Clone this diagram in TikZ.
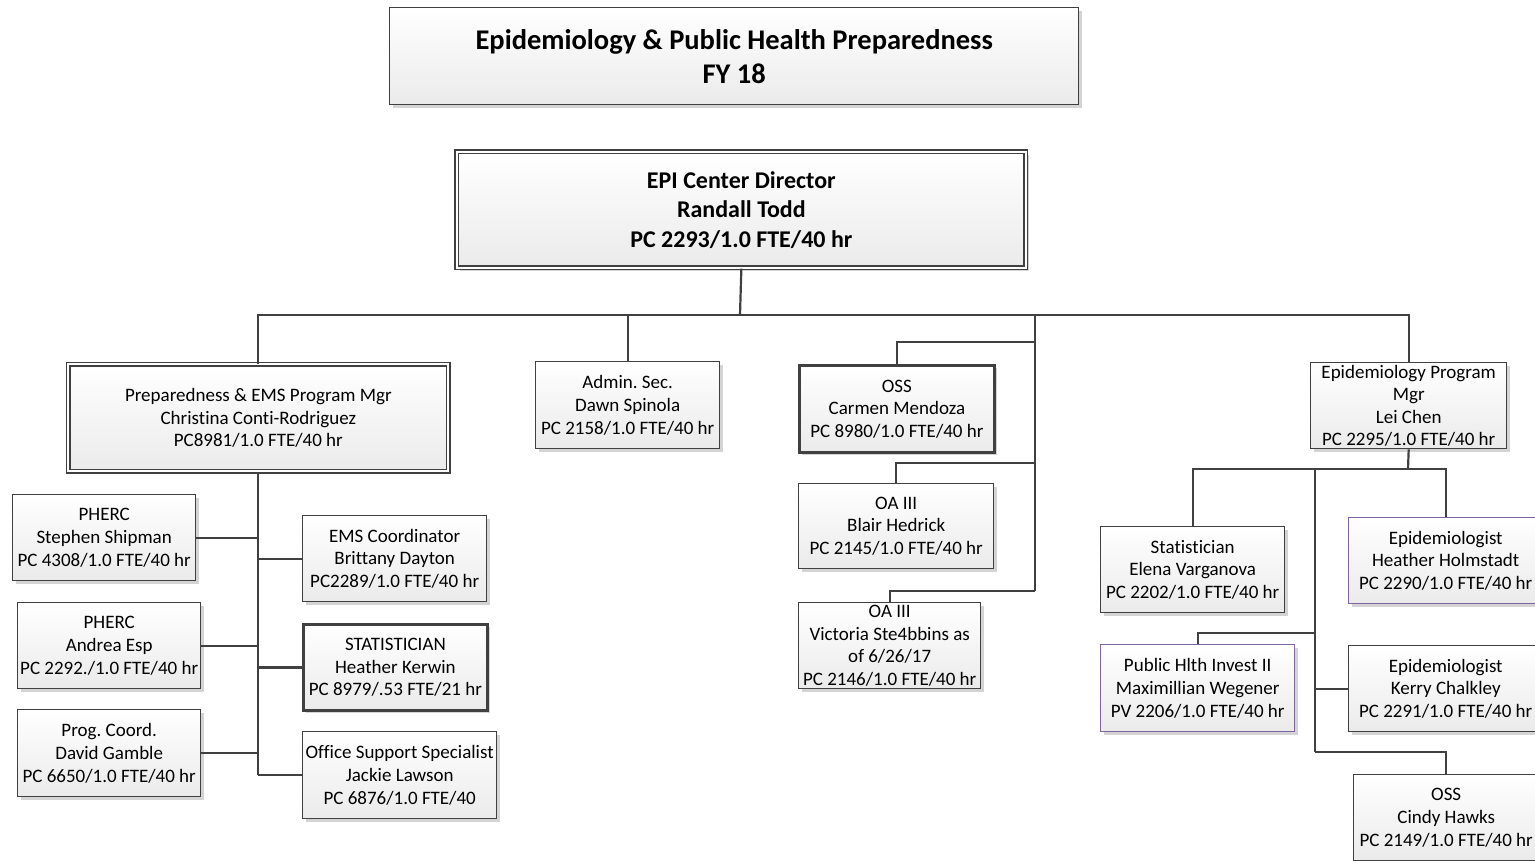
\documentclass[tikz,border=0pt]{standalone}
\usepackage{fontspec}
\setmainfont{Carlito}[Ligatures=NoCommon]
\frenchspacing
\usetikzlibrary{shadows}
\definecolor{ln}{RGB}{64,64,64}
\definecolor{pur}{RGB}{128,100,162}
\tikzset{
  box/.style={draw=ln, line width=1.4pt, top color=white, bottom color=black!8,
    drop shadow={shadow xshift=3pt, shadow yshift=-3pt, fill=black!17, opacity=1},
    inner sep=0pt, align=center, anchor=north west,
    font=\fontsize{19}{22.6}\selectfont},
  thickbox/.style={box, line width=2.8pt},
  dbox/.style={box, double=white, double distance=1.8pt, line width=1.7pt},
  purbox/.style={box, draw=pur},
  conn/.style={draw=ln, line width=2.2pt},
}
\begin{document}
\begin{tikzpicture}[x=1pt,y=-1pt]
\useasboundingbox (0,0) rectangle (1535,860);
% title
\node[box, minimum width=689pt, minimum height=97pt, font=\fontsize{28.5}{34}\selectfont\bfseries] (title) at (389,7)
  {Epidemiology \& Public Health Preparedness\\FY 18};
% director
\node[dbox, minimum width=569pt, minimum height=116pt, font=\fontsize{24}{29.5}\selectfont\bfseries] (dir) at (456,151)
  {EPI Center Director\\Randall Todd\\PC 2293/1.0 FTE/40 hr};
% level 2
\node[dbox, minimum width=380pt, minimum height=107pt] (prep) at (67.5,363.5)
  {Preparedness \& EMS Program Mgr\\Christina Conti-Rodriguez\\PC8981/1.0 FTE/40 hr};
\node[box, minimum width=184pt, minimum height=87pt] (admin) at (535,361)
  {Admin. Sec.\\Dawn Spinola\\PC 2158/1.0 FTE/40 hr};
\node[thickbox, minimum width=195pt, minimum height=87pt] (oss1) at (798,364)
  {OSS\\Carmen Mendoza\\PC 8980/1.0 FTE/40 hr};
\node[box, minimum width=195pt, minimum height=85pt] (oa1) at (798,483)
  {OA III\\Blair Hedrick\\PC 2145/1.0 FTE/40 hr};
\node[box, minimum width=182pt, minimum height=86pt] (oa2) at (798,602)
  {OA III\\Victoria Ste4bbins as\\of 6/26/17\\PC 2146/1.0 FTE/40 hr};
\node[box, minimum width=196pt, minimum height=86pt] (epimgr) at (1310,362)
  {Epidemiology Program\\Mgr\\Lei Chen\\PC 2295/1.0 FTE/40 hr};
% left branch
\node[box, minimum width=183pt, minimum height=86pt] (ship) at (12,494)
  {PHERC\\Stephen Shipman\\PC 4308/1.0 FTE/40 hr};
\node[box, minimum width=183pt, minimum height=86pt] (andrea) at (17,602)
  {PHERC\\Andrea Esp\\PC 2292./1.0 FTE/40 hr};
\node[box, minimum width=183pt, minimum height=87pt] (prog) at (17,709)
  {Prog. Coord.\\David Gamble\\PC 6650/1.0 FTE/40 hr};
\node[box, minimum width=184pt, minimum height=86pt] (ems) at (302,515)
  {EMS Coordinator\\Brittany Dayton\\PC2289/1.0 FTE/40 hr};
\node[thickbox, minimum width=184pt, minimum height=86pt] (kerwin) at (302,623)
  {STATISTICIAN\\Heather Kerwin\\PC 8979/.53 FTE/21 hr};
\node[box, minimum width=194pt, minimum height=87pt] (office) at (302,731)
  {Office Support Specialist\\Jackie Lawson\\PC 6876/1.0 FTE/40};
% right branch
\node[box, minimum width=184pt, minimum height=86pt] (stat) at (1100,526)
  {Statistician\\Elena Varganova\\PC 2202/1.0 FTE/40 hr};
\node[purbox, minimum width=194pt, minimum height=86pt] (holm) at (1348,517)
  {Epidemiologist\\Heather Holmstadt\\PC 2290/1.0 FTE/40 hr};
\node[purbox, minimum width=194pt, minimum height=87pt] (phi) at (1100,644)
  {Public Hlth Invest II\\Maximillian Wegener\\PV 2206/1.0 FTE/40 hr};
\node[box, minimum width=194pt, minimum height=86pt] (kerry) at (1348,645)
  {Epidemiologist\\Kerry Chalkley\\PC 2291/1.0 FTE/40 hr};
\node[box, minimum width=185pt, minimum height=86pt] (cindy) at (1353,774)
  {OSS\\Cindy Hawks\\PC 2149/1.0 FTE/40 hr};
% connectors: top level
\coordinate (bus) at (740,315);
\coordinate (m0) at (1035,315);
\coordinate (m1) at (1035,342);
\coordinate (m2) at (1035,463);
\coordinate (m3) at (1035,591);
\draw[conn] (dir.south) -- (bus);
\draw[conn] (prep.north) |- (bus);
\draw[conn] (admin.north) |- (bus);
\draw[conn] (epimgr.north) |- (bus);
\draw[conn] (m0) -- (m3);
\draw[conn] (oss1.north) |- (m1);
\draw[conn] (oa1.north) |- (m2);
\draw[conn] (oa2.north) |- (m3);
% left branch
\draw[conn] (prep.south) -- (prep.south |- office.west);
\draw[conn] (ship.east) -- (ship.east -| prep.south);
\draw[conn] (andrea.east) -- (andrea.east -| prep.south);
\draw[conn] (prog.east) -- (prog.east -| prep.south);
\draw[conn] (ems.west) -- (ems.west -| prep.south);
\draw[conn] (kerwin.west) -- (kerwin.west -| prep.south);
\draw[conn] (office.west) -- (office.west -| prep.south);
% right branch
\coordinate (e1) at (1408,469);
\coordinate (e2) at (1315,469);
\coordinate (e3) at (1315,752);
\coordinate (e4) at (1315,633);
\draw[conn] (epimgr.south) -- (e1);
\draw[conn] (stat.north) |- (e1);
\draw[conn] (holm.north) |- (e1);
\draw[conn] (e2) -- (e3);
\draw[conn] (phi.north) |- (e4);
\draw[conn] (kerry.west) -- (kerry.west -| e2);
\draw[conn] (cindy.north) |- (e3);
\end{tikzpicture}
\end{document}
